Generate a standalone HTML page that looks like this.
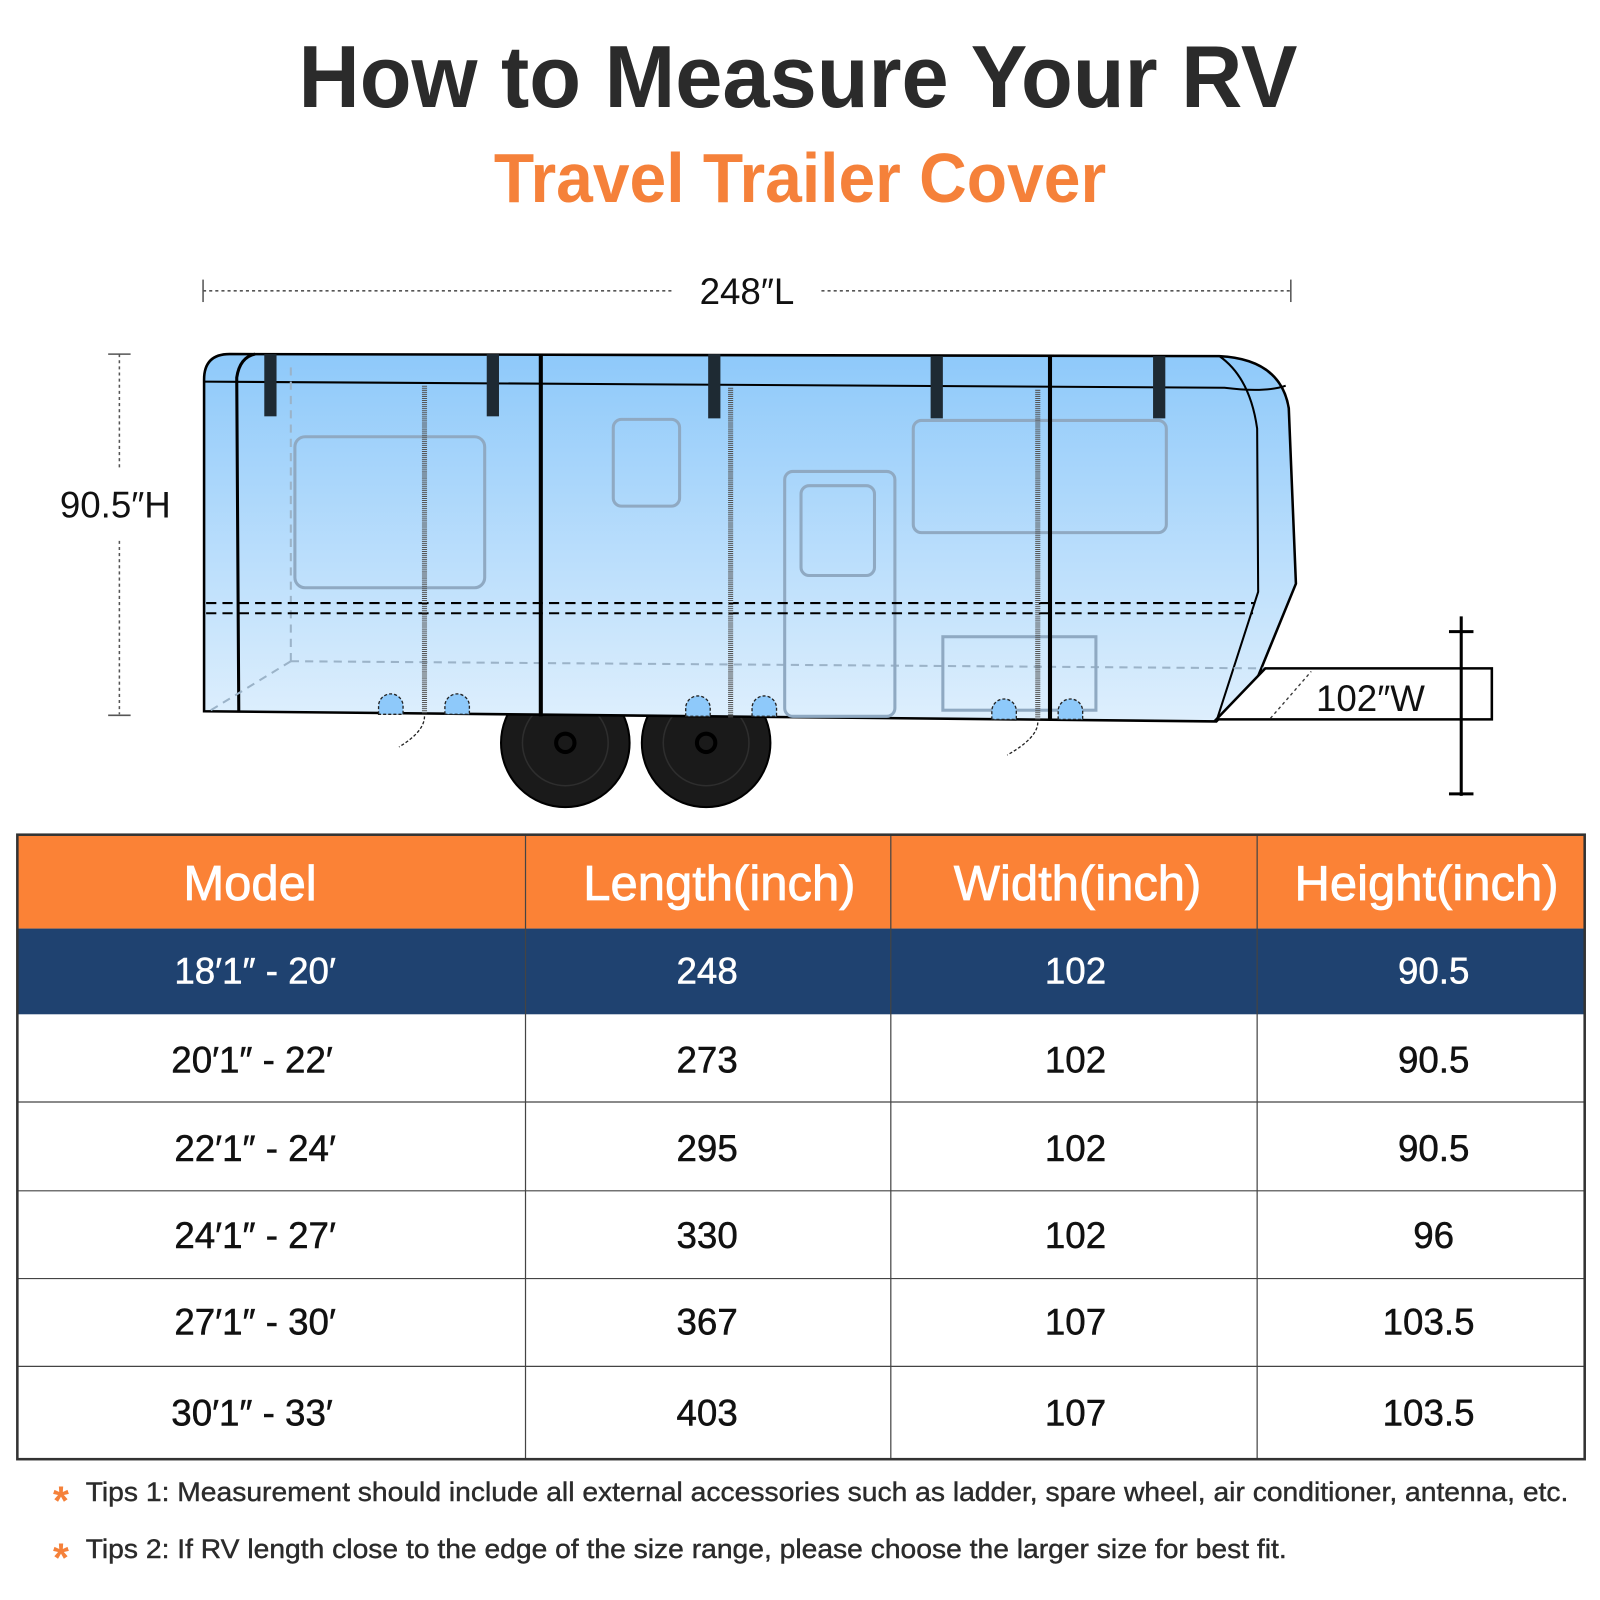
<!DOCTYPE html>
<html><head><meta charset="utf-8"><style>
html,body{margin:0;padding:0;background:#fff;}
svg{display:block;font-family:"Liberation Sans",sans-serif;}
</style></head><body>
<svg width="1600" height="1600" viewBox="0 0 1568 1568" xmlns="http://www.w3.org/2000/svg">
<defs>
<linearGradient id="g" x1="0" y1="0" x2="0" y2="1">
<stop offset="0" stop-color="#8ec9fa"/><stop offset="1" stop-color="#deeffd"/>
</linearGradient>
</defs>
<rect width="1568" height="1568" fill="#fff"/>
<text x="782" y="105" text-anchor="middle" font-size="86" font-weight="bold" fill="#2b2b2b" textLength="979" lengthAdjust="spacingAndGlyphs">How to Measure Your RV</text>
<text x="784" y="198" text-anchor="middle" font-size="68" font-weight="bold" fill="#f5813a" textLength="600" lengthAdjust="spacingAndGlyphs">Travel Trailer Cover</text>

<g stroke="#555" stroke-width="1.5" stroke-dasharray="3,3" fill="none">
<line x1="199" y1="285" x2="660" y2="285"/><line x1="805" y1="285" x2="1265" y2="285"/>
<line x1="117" y1="347" x2="117" y2="460"/><line x1="117" y1="530" x2="117" y2="700"/>
</g>
<g stroke="#555" stroke-width="1.5"><line x1="199" y1="274" x2="199" y2="296"/><line x1="1265" y1="274" x2="1265" y2="296"/><line x1="106" y1="347" x2="128" y2="347"/><line x1="106" y1="701" x2="128" y2="701"/></g>
<text x="732" y="298" text-anchor="middle" font-size="36" fill="#111">248″L</text>
<text x="113" y="507" text-anchor="middle" font-size="36" fill="#111">90.5″H</text>

<!-- wheels (behind body) -->
<circle cx="554" cy="728" r="63" fill="#1a1a1a" stroke="#000" stroke-width="2"/><circle cx="554" cy="728" r="42" fill="none" stroke="#2e2e2e" stroke-width="1.5"/><circle cx="554" cy="728" r="9" fill="none" stroke="#000" stroke-width="4"/>
<circle cx="692" cy="728" r="63" fill="#1a1a1a" stroke="#000" stroke-width="2"/><circle cx="692" cy="728" r="42" fill="none" stroke="#2e2e2e" stroke-width="1.5"/><circle cx="692" cy="728" r="9" fill="none" stroke="#000" stroke-width="4"/>

<!-- trailer body -->
<path d="M200,697 L200,372 Q200,347 225,347 L1195,349 Q1255,352 1263,400 L1270,572 L1232,665 L1192,707 Z" fill="url(#g)" stroke="#000" stroke-width="2.5"/>
<path d="M200,374 L1200,380 Q1240,385 1260,378" fill="none" stroke="#000" stroke-width="2"/>
<path d="M1195,349 Q1225,370 1232,420 L1233,580 L1192,707" fill="none" stroke="#000" stroke-width="2"/>
<path d="M234,697 L232,370 Q235,350 250,347" fill="none" stroke="#000" stroke-width="3"/>
<g stroke="#9bb3c8" stroke-width="2" stroke-dasharray="8,6" fill="none">
<line x1="285" y1="360" x2="285" y2="648"/><line x1="285" y1="648" x2="1240" y2="655"/><line x1="285" y1="648" x2="205" y2="697"/>
</g>
<g fill="none" stroke="#8fa9c2" stroke-width="3">
<rect x="289" y="428" width="186" height="148" rx="10"/>
<rect x="601" y="411" width="65" height="85" rx="8"/>
<rect x="769" y="462" width="108" height="240" rx="8"/>
<rect x="785" y="476" width="72" height="88" rx="8"/>
<rect x="895" y="412" width="248" height="110" rx="8"/>
<rect x="924" y="624" width="150" height="72"/>
</g>
<g stroke="#000" stroke-width="2" stroke-dasharray="10,6"><line x1="202" y1="591" x2="1230" y2="591"/><line x1="202" y1="601" x2="1228" y2="601"/></g>
<g stroke="#000" stroke-width="4"><line x1="530" y1="347" x2="530" y2="702"/><line x1="1029" y1="349" x2="1029" y2="706"/></g>
<g stroke="#555" stroke-width="5" stroke-dasharray="1,1"><line x1="416" y1="378" x2="416" y2="700"/><line x1="716" y1="380" x2="716" y2="703"/><line x1="1017" y1="382" x2="1017" y2="706"/></g>
<g fill="#1e2a33"><rect x="259" y="347" width="12" height="61"/><rect x="477" y="347" width="12" height="61"/><rect x="694" y="347" width="12" height="63"/><rect x="912" y="349" width="12" height="61"/><rect x="1130" y="349" width="12" height="61"/></g>
<g fill="#8ec9fa" stroke="#222" stroke-width="1.3" stroke-dasharray="3,2">
<path d="M371,700 v-8 a12,12 0 0 1 24,0 v8z"/><path d="M436,700 v-8 a12,12 0 0 1 24,0 v8z"/><path d="M672,702 v-8 a12,12 0 0 1 24,0 v8z"/><path d="M737,702 v-8 a12,12 0 0 1 24,0 v8z"/><path d="M972,705 v-8 a12,12 0 0 1 24,0 v8z"/><path d="M1037,705 v-8 a12,12 0 0 1 24,0 v8z"/>
</g>
<g stroke="#222" stroke-width="1.3" stroke-dasharray="3,2" fill="none"><path d="M416,702 q0,15 -25,30"/><path d="M1017,708 q0,15 -30,32"/></g>
<path d="M1192,705 L1240,655 L1462,655 L1462,705 Z" fill="#fff" stroke="#000" stroke-width="2.5"/>
<line x1="1245" y1="704" x2="1285" y2="658" stroke="#333" stroke-width="1.3" stroke-dasharray="3,3"/>
<g stroke="#000" stroke-width="3"><line x1="1432" y1="604" x2="1432" y2="780"/><line x1="1420" y1="619" x2="1444" y2="619"/><line x1="1420" y1="778" x2="1444" y2="778"/></g>
<text x="1343" y="697" text-anchor="middle" font-size="36" fill="#111">102″W</text>

<rect x="17" y="818" width="1536" height="92" fill="#fb8236"/>
<rect x="17" y="910" width="1536" height="84" fill="#1f4270"/>
<g stroke="#444" stroke-width="1.2">
<line x1="17" y1="1080" x2="1553" y2="1080"/><line x1="17" y1="1167" x2="1553" y2="1167"/><line x1="17" y1="1253" x2="1553" y2="1253"/><line x1="17" y1="1339" x2="1553" y2="1339"/>
<line x1="515" y1="818" x2="515" y2="1430"/><line x1="873" y1="818" x2="873" y2="1430"/><line x1="1232" y1="818" x2="1232" y2="1430"/>
</g>
<rect x="17" y="818" width="1536" height="612" fill="none" stroke="#333" stroke-width="2.5"/>
<g font-size="48" fill="#fff" text-anchor="middle" stroke="#fff" stroke-width="0.8">
<text x="245" y="882">Model</text><text x="705" y="882">Length(inch)</text><text x="1056" y="882">Width(inch)</text><text x="1398" y="882">Height(inch)</text>
</g>
<g font-size="36" text-anchor="middle" fill="#fff" stroke="#fff" stroke-width="0.5">
<text x="250" y="964">18′1″ - 20′</text><text x="693" y="964">248</text><text x="1054" y="964">102</text><text x="1405" y="964">90.5</text>
</g>
<g font-size="36" text-anchor="middle" fill="#111" stroke="#111" stroke-width="0.5">
<text x="247" y="1051">20′1″ - 22′</text><text x="693" y="1051">273</text><text x="1054" y="1051">102</text><text x="1405" y="1051">90.5</text>
<text x="250" y="1138">22′1″ - 24′</text><text x="693" y="1138">295</text><text x="1054" y="1138">102</text><text x="1405" y="1138">90.5</text>
<text x="250" y="1223">24′1″ - 27′</text><text x="693" y="1223">330</text><text x="1054" y="1223">102</text><text x="1405" y="1223">96</text>
<text x="250" y="1308">27′1″ - 30′</text><text x="693" y="1308">367</text><text x="1054" y="1308">107</text><text x="1400" y="1308">103.5</text>
<text x="247" y="1397">30′1″ - 33′</text><text x="693" y="1397">403</text><text x="1054" y="1397">107</text><text x="1400" y="1397">103.5</text>
</g>
<g font-size="26" fill="#2b2b2b">
<text x="52" y="1484" font-size="40" font-weight="bold" fill="#f5813a">*</text>
<text x="84" y="1471" stroke="#2b2b2b" stroke-width="0.4" textLength="1453" lengthAdjust="spacingAndGlyphs">Tips 1: Measurement should include all external accessories such as ladder, spare wheel, air conditioner, antenna, etc.</text>
<text x="52" y="1540" font-size="40" font-weight="bold" fill="#f5813a">*</text>
<text x="84" y="1527" stroke="#2b2b2b" stroke-width="0.4" textLength="1177" lengthAdjust="spacingAndGlyphs">Tips 2: If RV length close to the edge of the size range, please choose the larger size for best fit.</text>
</g>
</svg>
</body></html>
